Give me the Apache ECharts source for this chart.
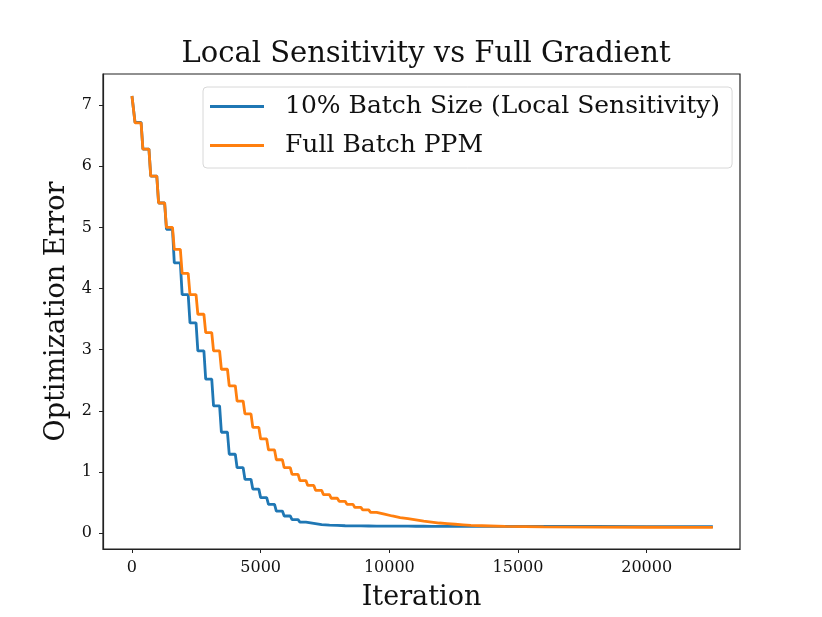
<!DOCTYPE html>
<html>
<head>
    <meta charset="utf-8">
    <script src="https://cdn.jsdelivr.net/npm/echarts@6/dist/echarts.min.js"></script>
    <style>
        html, body { margin: 0; padding: 0; background: #fff; }
        #chart { width: 822px; height: 617px; }
    </style>
</head>
<body>
    <div id="chart"></div>
<script type="text/javascript">
    // iterations where each step of the curves drops
    var iters = [0, 50, 355, 660, 965, 1270, 1575, 1880, 2185, 2490, 2795, 3100, 3405, 3710, 4015,
        4320, 4625, 4930, 5235, 5540, 5845, 6150, 6455, 6760, 7065, 7370, 7675, 7980, 8285, 8590,
        8895, 9200, 9505, 9810, 10115, 10420, 10725, 11030, 11335, 11640, 11945, 12250, 12555, 12860,
        13165, 13600, 14500, 16000, 18000, 20000, 22500];

    // 10% batch size (local sensitivity)
    var localSens = [7.15, 6.72, 6.28, 5.84, 5.40, 4.97, 4.42, 3.90, 3.44, 2.98, 2.52, 2.08, 1.65, 1.29, 1.07,
        0.88, 0.72, 0.58, 0.47, 0.36, 0.28, 0.22, 0.18, 0.16, 0.14, 0.13, 0.125, 0.12, 0.118, 0.117,
        0.116, 0.115, 0.115, 0.114, 0.113, 0.113, 0.112, 0.112, 0.111, 0.111, 0.11, 0.11, 0.11, 0.11,
        0.11, 0.11, 0.108, 0.108, 0.107, 0.107, 0.107];

    // full batch PPM
    var fullBatch = [7.15, 6.71, 6.28, 5.84, 5.40, 5.00, 4.64, 4.25, 3.90, 3.58, 3.28, 2.98, 2.68, 2.41, 2.16,
        1.95, 1.73, 1.54, 1.36, 1.20, 1.07, 0.96, 0.86, 0.78, 0.70, 0.63, 0.57, 0.52, 0.47, 0.42,
        0.38, 0.34, 0.31, 0.28, 0.255, 0.235, 0.215, 0.195, 0.18, 0.165, 0.155, 0.145, 0.135, 0.125,
        0.12, 0.11, 0.102, 0.098, 0.096, 0.095, 0.095];

    var xTicks = [0, 5000, 10000, 15000, 20000];
    var yTicks = [0, 1, 2, 3, 4, 5, 6, 7];

    // each step drops over a short run of iterations, not straight down
    var dropWidth = 70;
    function stairs(ys) {
        var pts = [[iters[0], ys[0]]];
        for (var i = 1; i < iters.length; i++) {
            pts.push([iters[i], ys[i - 1]]);
            pts.push([iters[i] + dropWidth, ys[i]]);
        }
        return pts;
    }

    var chart = echarts.init(document.getElementById('chart'));
    var serif = 'DejaVu Serif';

    var option = {
        backgroundColor: '#fff',
        animation: false,
        title: {
            text: 'Local Sensitivity vs Full Gradient',
            left: 421,
            top: 35,
            textAlign: 'center',
            textStyle: { fontFamily: serif, fontSize: 29, fontWeight: 'normal', color: '#111' }
        },
        legend: {
            orient: 'vertical',
            left: 203,
            top: 87,
            padding: [7, 12, 10, 7],
            itemGap: 14,
            itemWidth: 54,
            itemHeight: 3,
            icon: 'rect',
            backgroundColor: 'rgba(255,255,255,0.85)',
            borderColor: '#d8d8d8',
            borderWidth: 1,
            borderRadius: 4,
            textStyle: { fontFamily: serif, fontSize: 25, color: '#111', padding: [0, 0, 0, 16] },
            data: ['10% Batch Size (Local Sensitivity)', 'Full Batch PPM']
        },
        grid: {
            left: 103, right: 82, top: 74, bottom: 68,
            outerBoundsMode: 'none',
            show: true, borderColor: '#222', borderWidth: 1.2
        },
        xAxis: {
            type: 'value',
            min: -1125,
            max: 23625,
            name: 'Iteration',
            nameLocation: 'middle',
            nameGap: 35,
            nameTextStyle: { fontFamily: serif, fontSize: 27, color: '#111' },
            axisLine: { show: true, onZero: false, lineStyle: { color: '#222', width: 1.2 } },
            axisTick: { show: true, length: 4, customValues: xTicks, lineStyle: { color: '#222' } },
            axisLabel: {
                customValues: xTicks, fontFamily: serif, fontSize: 16, color: '#111', margin: 11,
                formatter: function (v) { return String(v); }
            },
            splitLine: { show: false }
        },
        yAxis: {
            type: 'value',
            min: -0.26,
            max: 7.51,
            name: 'Optimization Error',
            nameLocation: 'middle',
            nameGap: 31,
            nameTextStyle: { fontFamily: serif, fontSize: 27, color: '#111' },
            axisLine: { show: true, onZero: false, lineStyle: { color: '#222', width: 1.2 } },
            axisTick: { show: true, length: 4, customValues: yTicks, lineStyle: { color: '#222' } },
            axisLabel: {
                customValues: yTicks, fontFamily: serif, fontSize: 16, color: '#111', margin: 11,
                formatter: function (v) { return String(v); }
            },
            splitLine: { show: false }
        },
        series: [
            {
                name: '10% Batch Size (Local Sensitivity)',
                type: 'line',
                showSymbol: false,
                data: stairs(localSens),
                itemStyle: { color: '#1f77b4' },
                lineStyle: { color: '#1f77b4', width: 2.8 }
            },
            {
                name: 'Full Batch PPM',
                type: 'line',
                showSymbol: false,
                data: stairs(fullBatch),
                itemStyle: { color: '#ff7f0e' },
                lineStyle: { color: '#ff7f0e', width: 2.8 }
            }
        ]
    };

    chart.setOption(option);
</script>
</body>
</html>
